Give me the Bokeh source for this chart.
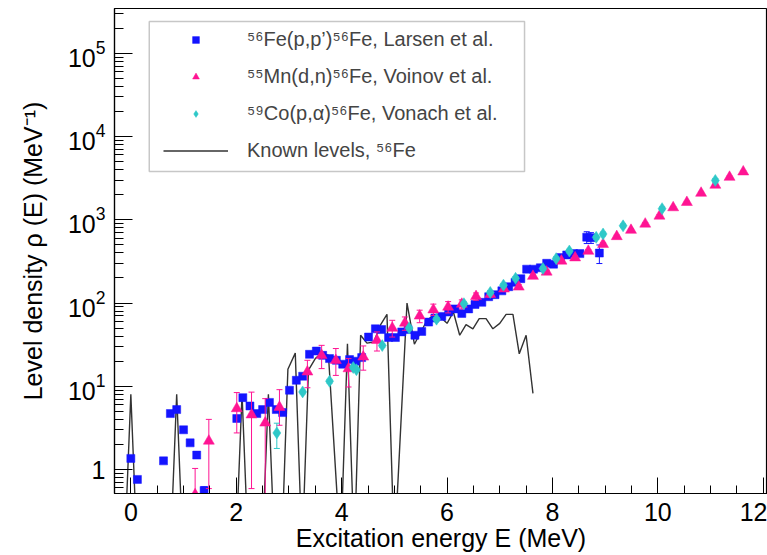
from bokeh.plotting import figure
from bokeh.models import (ColumnDataSource, Range1d, SingleIntervalTicker, FixedTicker,
                          LogTickFormatter, BoxAnnotation, Legend, LegendItem)
from bokeh.embed import file_html
from bokeh.resources import INLINE

# ---------------- data ----------------
# Known levels of 56Fe (level density from discrete levels)
levels_E = [-0.12, 0.00, 0.12, 0.75, 0.87, 0.99, 1.99, 2.11, 2.23, 2.49, 2.61, 2.73,
            2.86, 2.98, 3.12, 3.25, 3.37, 3.50, 3.62, 3.75, 3.98, 4.11, 4.24, 4.36,
            4.48, 4.61, 4.74, 4.86, 5.00, 5.24, 5.38, 5.62, 5.74, 5.87, 6.00, 6.12,
            6.24, 6.36, 6.49, 6.61, 6.74, 6.87, 7.00, 7.12, 7.25, 7.37, 7.50, 7.63]
levels_rho = [0.1, 8, 0.1, 0.1, 8, 0.1, 0.1, 8, 0.1, 0.1, 8, 0.1,
              0.1, 16, 25, 0.1, 15.6, 21.5, 25, 23.5, 0.1, 32.5, 0.1, 41,
              33, 34, 55, 73, 0.1, 100, 32, 62, 71, 68, 57, 78,
              41, 55, 49, 65, 65, 49, 57, 73, 73, 24.5, 41, 8.2]

# 56Fe(p,p')56Fe, Larsen et al.
larsen_E = [0.00, 0.125, 0.62, 0.75, 0.87, 1.00, 1.125, 1.25, 1.39, 2.01, 2.125, 2.26, 2.39,
            2.50, 2.63, 2.76, 2.88, 3.01, 3.14, 3.26, 3.39, 3.52, 3.64, 3.77, 3.90, 4.02,
            4.15, 4.26, 4.38, 4.51, 4.64, 4.76, 4.89, 5.02, 5.14, 5.26, 5.39, 5.52, 5.65,
            5.77, 5.90, 6.03, 6.15, 6.28, 6.41, 6.53, 6.66, 6.79, 6.91, 7.04, 7.17, 7.29,
            7.40, 7.51, 7.64, 7.77, 7.89, 8.02, 8.15, 8.27, 8.40, 8.52, 8.65, 8.73, 8.89]
larsen_rho = [1.36, 0.76, 1.27, 4.7, 5.25, 3.0, 2.09, 1.49, 0.56, 4.1, 7.3, 5.8, 4.7,
              5.25, 6.4, 5.25, 4.83, 8.96, 11.8, 13.2, 24.2, 26.5, 23.5, 21.5, 20.5, 18.4,
              20.9, 20.0, 22.1, 39, 49, 48, 38.5, 38.5, 45, 48, 41, 45.5, 59,
              66, 69, 78, 85, 75, 85, 96, 102, 119, 126, 140, 157, 177,
              196, 255, 255, 265, 300, 293, 351, 378, 392, 392, 618, 610, 398]
larsen_err = [0.05, 0.05, 0.05, 0.2, 0.2, 0.15, 0.1, 0.08, 0.06, 0.3, 0.4, 0.3, 0.3,
              0.3, 0.3, 0.3, 0.3, 0.5, 0.6, 0.7, 1.2, 1.3, 1.2, 1.1, 1.0, 1.0,
              1.0, 1.0, 1.1, 2, 2.5, 2.5, 2, 2, 2.3, 2.4, 2.1, 2.3, 3,
              3.3, 3.5, 4, 4.3, 3.8, 4.3, 5, 5, 6, 6.5, 7, 8, 9,
              10, 13, 13, 14, 16, 16, 20, 25, 30, 30, 100, 90, 100]

# 55Mn(d,n)56Fe, Voinov et al.
voinov_E = [1.22, 1.48, 2.01, 2.29, 2.55, 2.82, 3.35, 3.62, 3.89, 4.13, 4.41, 4.67, 4.96,
            5.20, 5.48, 5.74, 6.02, 6.28, 6.55, 6.82, 7.08, 7.36, 7.63, 7.89, 8.17, 8.43,
            8.68, 8.96, 9.22, 9.49, 9.76, 10.03, 10.29, 10.55, 10.82, 11.09, 11.36, 11.62]
voinov_rho = [0.5, 2.2, 5.4, 4.55, 3.63, 5.6, 14.9, 23.5, 20.5, 16.3, 22.5, 35.6, 50,
              57.5, 70, 83, 89.6, 97, 120, 127, 148, 156, 210, 236, 320, 350,
              420, 508, 630, 750, 890, 1110, 1400, 1620, 2090, 2610, 3250, 3770]
voinov_lo = [0.1, 0.59, 2.75, 0.59, 0.3, 3.4, 9.6, 16.3, 13.5, 9.8, 15.6, 26.5, 39,
             47, 58, 71, 76, 85, 108, 117, 138, 146, 198, 224, 305, 334,
             402, 487, 606, 722, 858, 1072, 1355, 1570, 2030, 2540, 3160, 3670]
voinov_hi = [1.03, 4.0, 8.4, 8.5, 7.1, 9.1, 20.5, 31, 28.4, 21.5, 30.5, 45, 62,
             68, 82, 97, 104, 109, 132, 137, 158, 166, 222, 248, 335, 366,
             438, 529, 654, 778, 922, 1148, 1445, 1670, 2150, 2680, 3340, 3870]

# 59Co(p,alpha)56Fe, Vonach et al.
vonach_E = [2.77, 3.26, 3.77, 4.22, 4.28, 4.77, 5.28, 5.80, 6.32, 6.82, 7.07, 7.30,
            7.82, 8.07, 8.32, 8.83, 8.96, 9.34, 10.08, 11.09]
vonach_rho = [2.75, 8.55, 11.5, 16.8, 15.8, 30.8, 50, 64, 98, 134, 164, 198,
              259, 341, 421, 615, 675, 846, 1360, 2970]
vonach_lo = [1.79, 8.1, 10.9, 15.9, 15.0, 29.3, 47.5, 61, 93, 127, 156, 188,
             246, 324, 400, 584, 641, 804, 1292, 2822]
vonach_hi = [3.6, 9.0, 12.1, 17.7, 16.6, 32.3, 52.5, 67, 103, 141, 172, 208,
             272, 358, 442, 646, 709, 888, 1428, 3118]

legend_labels = ["\u2075\u2076Fe(p,p\u2019)\u2075\u2076Fe, Larsen et al.",
                 "\u2075\u2075Mn(d,n)\u2075\u2076Fe, Voinov et al.",
                 "\u2075\u2079Co(p,\u03b1)\u2075\u2076Fe, Vonach et al.",
                 "Known levels, \u2075\u2076Fe"]

# ---------------- styling ----------------
FONT = "Liberation Sans"
BLUE = "#1414ff"
PINK = "#ff1493"
CYAN = "#2ec8c8"
GREY = "#333333"

p = figure(width=767, height=555, y_axis_type="log",
           x_range=Range1d(-0.31, 12.08), y_range=Range1d(0.515, 3.45e5),
           output_backend="svg", toolbar_location=None,
           min_border_left=114, min_border_right=0, min_border_top=8, min_border_bottom=62)
p.background_fill_color = "white"
p.border_fill_color = "white"
p.outline_line_color = "black"
p.outline_line_width = 1.2
p.grid.visible = False

# known levels line
lev = ColumnDataSource(dict(x=levels_E, y=levels_rho))
r_lev = p.line("x", "y", source=lev, line_color=GREY, line_width=1.4)

# Larsen
src_l = ColumnDataSource(dict(x=larsen_E, y=larsen_rho,
                              lo=[v - e for v, e in zip(larsen_rho, larsen_err)],
                              hi=[v + e for v, e in zip(larsen_rho, larsen_err)]))
p.segment("x", "lo", "x", "hi", source=src_l, line_color=BLUE, line_width=1)
p.scatter("x", "lo", source=src_l, marker="dash", size=6, line_color=BLUE, line_width=1)
p.scatter("x", "hi", source=src_l, marker="dash", size=6, line_color=BLUE, line_width=1)
r_l = p.scatter("x", "y", source=src_l, marker="square", size=8,
                fill_color=BLUE, line_color=BLUE, line_width=0.5)

# Voinov
src_v = ColumnDataSource(dict(x=voinov_E, y=voinov_rho, lo=voinov_lo, hi=voinov_hi))
p.segment("x", "lo", "x", "hi", source=src_v, line_color=PINK, line_width=1)
p.scatter("x", "lo", source=src_v, marker="dash", size=6, line_color=PINK, line_width=1)
p.scatter("x", "hi", source=src_v, marker="dash", size=6, line_color=PINK, line_width=1)
r_v = p.scatter("x", "y", source=src_v, marker="triangle", size=11,
                fill_color=PINK, line_color=PINK, line_width=0.5)

# Vonach
src_c = ColumnDataSource(dict(x=vonach_E, y=vonach_rho, lo=vonach_lo, hi=vonach_hi))
p.segment("x", "lo", "x", "hi", source=src_c, line_color=CYAN, line_width=1)
p.scatter("x", "lo", source=src_c, marker="dash", size=6, line_color=CYAN, line_width=1)
p.scatter("x", "hi", source=src_c, marker="dash", size=6, line_color=CYAN, line_width=1)
r_c = p.scatter("x", "y", source=src_c, marker="diamond", size=12,
                fill_color=CYAN, line_color=CYAN, line_width=0.5)

# ---------------- axes ----------------
xa = p.xaxis[0]
xa.ticker = SingleIntervalTicker(interval=2, num_minor_ticks=4)
xa.axis_label = "Excitation energy E (MeV)"
xa.major_label_standoff = 9
xa.axis_label_standoff = 0
xa.major_tick_in = 16
xa.major_tick_out = 0
xa.minor_tick_in = 8
xa.minor_tick_out = 0

ya = p.yaxis[0]
decades = [1, 10, 100, 1000, 10000, 100000]
minor = [m * d for d in [0.1] + decades for m in range(2, 10)]
ya.ticker = FixedTicker(ticks=decades, minor_ticks=minor)
ya.formatter = LogTickFormatter(min_exponent=1)
ya.axis_label = "Level density \u03c1 (E) (MeV\u207b\u00b9)"
ya.major_label_standoff = 9
ya.axis_label_standoff = 18
ya.major_tick_in = 18
ya.major_tick_out = 0
ya.minor_tick_in = 9
ya.minor_tick_out = 0

for ax in (xa, ya):
    ax.axis_line_color = "black"
    ax.axis_line_width = 1.2
    ax.major_tick_line_color = "black"
    ax.minor_tick_line_color = "black"
    ax.major_label_text_font = FONT
    ax.major_label_text_font_size = "25px"
    ax.major_label_text_color = "black"
    ax.axis_label_text_font = FONT
    ax.axis_label_text_font_size = "25px"
    ax.axis_label_text_font_style = "normal"
    ax.axis_label_text_color = "black"

# ---------------- legend ----------------
box = BoxAnnotation(left=0.35, right=7.47, bottom=3811, top=2.41e5,
                    fill_alpha=0, line_color="#444444", line_width=1.5)
p.add_layout(box)

legend = Legend(items=[LegendItem(label=legend_labels[0], renderers=[r_l]),
                       LegendItem(label=legend_labels[1], renderers=[r_v]),
                       LegendItem(label=legend_labels[2], renderers=[r_c]),
                       LegendItem(label=legend_labels[3], renderers=[r_lev])],
                location=(41, 323), padding=8, spacing=13,
                glyph_width=65, glyph_height=17, label_height=24, label_standoff=19,
                label_text_font=FONT, label_text_font_size="20px",
                border_line_alpha=0, background_fill_alpha=0)
p.add_layout(legend)

open("out.html", "w").write(file_html(p, INLINE))
